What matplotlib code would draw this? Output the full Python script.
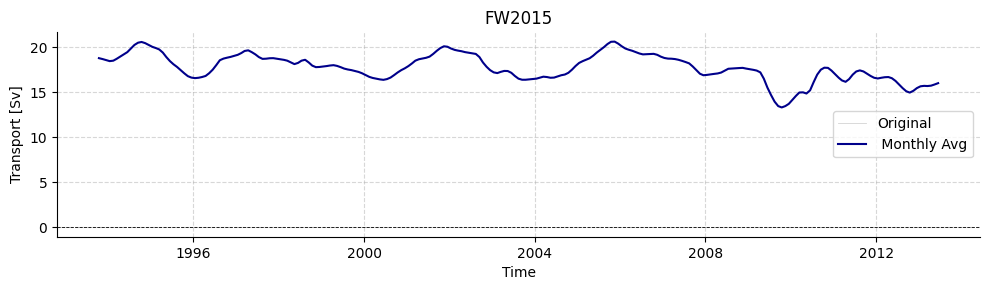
import numpy as np
import pandas as pd
import matplotlib
matplotlib.use('Agg')
import matplotlib.pyplot as plt
import matplotlib.dates as mdates

# ── Data (monthly averages, Sv; mid-month time stamps) ───────────────────────
start_month = '1993-10-15'
monthly_avg = [
    18.78, 18.68, 18.57, 18.45, 18.50, 18.70, 18.95, 19.19, 19.45, 19.85, 20.25, 20.50,
    20.58, 20.45, 20.25, 20.04, 19.90, 19.75, 19.40, 18.90, 18.45, 18.10, 17.80, 17.45,
    17.10, 16.78, 16.62, 16.56, 16.60, 16.68, 16.80, 17.10, 17.50, 18.00, 18.55, 18.73,
    18.83, 18.92, 19.03, 19.15, 19.35, 19.58, 19.65, 19.45, 19.20, 18.90, 18.70, 18.72,
    18.77, 18.78, 18.72, 18.66, 18.59, 18.50, 18.30, 18.12, 18.25, 18.50, 18.60, 18.30,
    17.95, 17.78, 17.80, 17.85, 17.90, 17.96, 18.00, 17.92, 17.78, 17.62, 17.52, 17.45,
    17.35, 17.25, 17.10, 16.90, 16.70, 16.58, 16.50, 16.42, 16.37, 16.45, 16.62, 16.90,
    17.19, 17.45, 17.65, 17.90, 18.20, 18.50, 18.66, 18.74, 18.82, 18.95, 19.25, 19.60,
    19.90, 20.10, 20.05, 19.85, 19.70, 19.62, 19.55, 19.45, 19.38, 19.32, 19.25, 18.90,
    18.30, 17.82, 17.45, 17.20, 17.12, 17.25, 17.36, 17.35, 17.15, 16.80, 16.50, 16.38,
    16.38, 16.42, 16.45, 16.50, 16.62, 16.72, 16.68, 16.60, 16.62, 16.75, 16.88, 16.96,
    17.15, 17.50, 17.90, 18.25, 18.45, 18.60, 18.77, 19.05, 19.40, 19.70, 20.00, 20.35,
    20.60, 20.62, 20.40, 20.10, 19.85, 19.72, 19.60, 19.45, 19.30, 19.20, 19.22, 19.25,
    19.26, 19.15, 18.95, 18.80, 18.73, 18.72, 18.68, 18.60, 18.48, 18.35, 18.20, 17.85,
    17.45, 17.05, 16.88, 16.92, 16.98, 17.03, 17.08, 17.18, 17.40, 17.60, 17.63, 17.65,
    17.68, 17.70, 17.62, 17.55, 17.48, 17.40, 17.20, 16.50, 15.50, 14.70, 13.95, 13.45,
    13.30, 13.45, 13.70, 14.15, 14.60, 14.96, 14.98, 14.85, 15.20, 16.10, 16.95, 17.50,
    17.72, 17.70, 17.40, 17.00, 16.60, 16.30, 16.15, 16.45, 16.95, 17.30, 17.42, 17.30,
    17.05, 16.80, 16.60, 16.52, 16.60, 16.66, 16.68, 16.55, 16.25, 15.85, 15.45, 15.10,
    14.95, 15.15, 15.45, 15.65, 15.70, 15.68, 15.72, 15.85, 16.00,
]
original_times = []
original_values = []

dates = pd.date_range(start_month[:8] + '01', periods=len(monthly_avg), freq='MS') \
    + pd.Timedelta(days=14)

# ── Figure ───────────────────────────────────────────────────────────────────
fig, ax = plt.subplots(figsize=(9.89, 2.9), dpi=100)
fig.subplots_adjust(left=0.0576, right=0.991, top=0.89, bottom=0.183)

ax.plot(original_times, original_values, color='lightgray', lw=0.6, label='Original')
ax.plot(dates, monthly_avg, color='darkblue', lw=1.5, label=' Monthly Avg')
ax.axhline(0, color='black', ls='--', lw=0.6)

ax.set_ylim(-1.1, 21.7)
ax.xaxis.set_major_locator(mdates.YearLocator(4))
ax.xaxis.set_major_formatter(mdates.DateFormatter('%Y'))

ax.grid(True, ls='--', alpha=0.5)
ax.spines['top'].set_visible(False)
ax.spines['right'].set_visible(False)

ax.set_title('FW2015')
ax.set_xlabel('Time')
ax.set_ylabel('Transport [Sv]')
ax.legend(loc='center right')

fig.savefig('out.png', dpi=100)
